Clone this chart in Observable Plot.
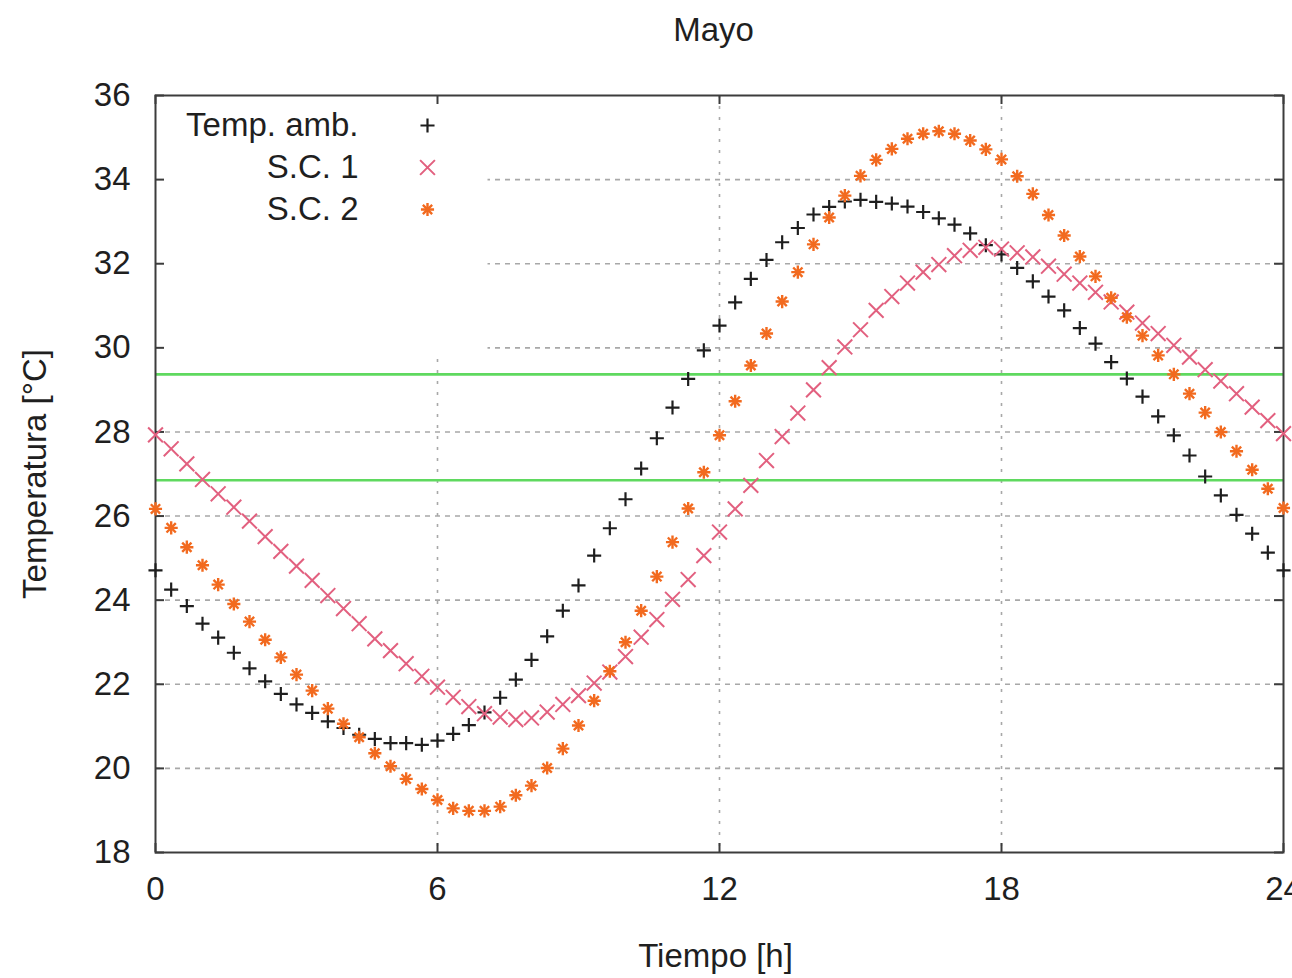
<!DOCTYPE html>
<html>
<head>
<meta charset="utf-8">
<script src="https://cdn.jsdelivr.net/npm/d3@7"></script>
<script src="https://cdn.jsdelivr.net/npm/@observablehq/plot@0.6"></script>
<style>
  html, body { margin: 0; padding: 0; background: #fff; }
  svg { display: block; }
</style>
</head>
<body>
<div id="chart"></div>
<script>
// ---------- data ----------
const title = "Mayo";
const xLabel = "Tiempo [h]";
const yLabel = "Temperatura [°C]";
const xTicks = [0, 6, 12, 18, 24];
const yTicks = [18, 20, 22, 24, 26, 28, 30, 32, 34, 36];
const seriesNames = ["Temp. amb.", "S.C. 1", "S.C. 2"];
const stepMinutes = 20; // one sample every 20 minutes

const tempAmb = [
  24.71, 24.25, 23.86, 23.44, 23.11, 22.75, 22.38, 22.07, 21.77, 21.52,
  21.32, 21.12, 20.96, 20.80, 20.70, 20.60, 20.60, 20.56, 20.66, 20.82,
  21.03, 21.33, 21.68, 22.11, 22.58, 23.14, 23.75, 24.35, 25.06, 25.71,
  26.40, 27.13, 27.85, 28.58, 29.26, 29.94, 30.53, 31.08, 31.64, 32.09,
  32.51, 32.85, 33.17, 33.35, 33.48, 33.52, 33.47, 33.43, 33.36, 33.23,
  33.08, 32.93, 32.72, 32.44, 32.22, 31.90, 31.58, 31.22, 30.89, 30.47,
  30.10, 29.66, 29.27, 28.84, 28.37, 27.92, 27.44, 26.94, 26.49, 26.03,
  25.58, 25.13, 24.71
];
const sc1 = [
  27.93, 27.60, 27.24, 26.87, 26.53, 26.21, 25.88, 25.51, 25.16, 24.81,
  24.47, 24.11, 23.80, 23.44, 23.08, 22.80, 22.49, 22.19, 21.93, 21.69,
  21.47, 21.30, 21.22, 21.16, 21.20, 21.34, 21.52, 21.73, 22.03, 22.29,
  22.66, 23.12, 23.54, 24.02, 24.49, 25.06, 25.62, 26.17, 26.73, 27.32,
  27.89, 28.45, 29.00, 29.53, 30.02, 30.43, 30.89, 31.22, 31.54, 31.80,
  31.98, 32.19, 32.32, 32.39, 32.35, 32.26, 32.16, 31.94, 31.75, 31.54,
  31.32, 31.09, 30.85, 30.59, 30.34, 30.06, 29.78, 29.48, 29.21, 28.91,
  28.59, 28.27, 27.96
];
const sc2 = [
  26.17, 25.72, 25.26, 24.83, 24.37, 23.91, 23.49, 23.06, 22.64, 22.23,
  21.85, 21.42, 21.06, 20.74, 20.36, 20.05, 19.75, 19.51, 19.25, 19.05,
  18.99, 18.99, 19.09, 19.36, 19.59, 20.01, 20.47, 21.02, 21.61, 22.31,
  23.00, 23.75, 24.56, 25.38, 26.18, 27.04, 27.92, 28.73, 29.58, 30.34,
  31.10, 31.80, 32.46, 33.10, 33.62, 34.09, 34.47, 34.73, 34.97, 35.09,
  35.15, 35.09, 34.93, 34.72, 34.48, 34.08, 33.66, 33.16, 32.67, 32.17,
  31.70, 31.19, 30.73, 30.29, 29.82, 29.37, 28.91, 28.46, 28.00, 27.54,
  27.10, 26.65, 26.19
];
const comfortLimits = [26.85, 29.37];

// ---------- build ----------
const toRows = (arr) => arr.map((v, i) => ({h: i * stepMinutes / 60, t: v}));
const rowsAmb = toRows(tempAmb);
const rowsSc1 = toRows(sc1);
const rowsSc2 = toRows(sc2);

const W = 1292, H = 978;
const mL = 155, mR = 9, mT = 95, mB = 126;
const fw = W - mL - mR, fh = H - mT - mB;
const tick = 9;

const cBlack = "#1e1e1e", cPink = "#e2607f", cOrange = "#f26a1f", cGreen = "#5fd95f";
const gridCol = "#a8a8a8", axisCol = "#3c3c3c";
const textCol = "#1f1f1f";

const symAmb = [{symbol: "plus", r: 4.6, stroke: cBlack, sw: 2.2}];
const symSc1 = [{symbol: "times", r: 6.8, stroke: cPink, sw: 2}];
const symSc2 = [{symbol: "plus", r: 4.3, stroke: cOrange, sw: 2.4}, {symbol: "times", r: 4.3, stroke: cOrange, sw: 2.4}];
const legendSymbols = [symAmb, symSc1, symSc2];

const legendMarks = [];
seriesNames.forEach((name, i) => {
  legendMarks.push(Plot.text([name], {frameAnchor: "top-left", textAnchor: "end", lineAnchor: "middle", dx: 203, dy: 30 + i * 42, fill: textCol}));
  legendSymbols[i].forEach(s => legendMarks.push(
    Plot.dot([0], {x: null, y: null, frameAnchor: "top-left", dx: 272, dy: 30 + i * 42, symbol: s.symbol, r: s.r, stroke: s.stroke, strokeWidth: s.sw, fill: "none"})
  ));
});

const seriesMarks = [];
[[rowsAmb, symAmb], [rowsSc1, symSc1], [rowsSc2, symSc2]].forEach(([rows, syms]) => {
  syms.forEach(s => seriesMarks.push(
    Plot.dot(rows, {x: "h", y: "t", symbol: s.symbol, r: s.r, stroke: s.stroke, strokeWidth: s.sw, fill: "none"})
  ));
});

const chart = Plot.plot({
  width: W, height: H,
  marginLeft: mL, marginRight: mR, marginTop: mT, marginBottom: mB,
  style: {fontFamily: "'Liberation Sans', Arial, Helvetica, sans-serif", fontSize: "33px", color: textCol, background: "#fff"},
  x: {domain: [0, 24]},
  y: {domain: [18, 36]},
  marks: [
    // grid
    Plot.ruleY(yTicks.slice(1, -1), {stroke: gridCol, strokeWidth: 1.6, strokeDasharray: "5,5"}),
    Plot.ruleX(xTicks.slice(1, -1), {stroke: gridCol, strokeWidth: 1.6, strokeDasharray: "3,8"}),
    // opaque key background
    Plot.frame({fill: "#fff", stroke: null, insetRight: fw - 332, insetBottom: fh - 262}),
    // comfort limits
    Plot.ruleY(comfortLimits, {stroke: cGreen, strokeWidth: 2.6}),
    // frame and inward ticks
    Plot.frame({stroke: axisCol, strokeWidth: 2}),
    Plot.ruleY(yTicks, {insetRight: fw - tick, stroke: axisCol, strokeWidth: 2}),
    Plot.ruleY(yTicks, {insetLeft: fw - tick, stroke: axisCol, strokeWidth: 2}),
    Plot.ruleX(xTicks, {insetTop: fh - tick, stroke: axisCol, strokeWidth: 2}),
    Plot.ruleX(xTicks, {insetBottom: fh - tick, stroke: axisCol, strokeWidth: 2}),
    // series
    ...seriesMarks,
    // legend
    ...legendMarks,
    // axes
    Plot.axisX(xTicks, {tickSize: 0, tickPadding: 24, label: null, fill: textCol}),
    Plot.axisY(yTicks, {tickSize: 0, tickPadding: 25, label: null, fill: textCol}),
    // titles
    Plot.text([title], {frameAnchor: "top", lineAnchor: "middle", dy: -65, dx: -6, fill: textCol}),
    Plot.text([xLabel], {frameAnchor: "bottom", lineAnchor: "middle", dy: 104, dx: -4, fill: textCol}),
    Plot.text([yLabel], {frameAnchor: "left", textAnchor: "middle", lineAnchor: "middle", rotate: -90, dx: -120, fill: textCol})
  ]
});
document.getElementById("chart").appendChild(chart);
</script>
</body>
</html>
